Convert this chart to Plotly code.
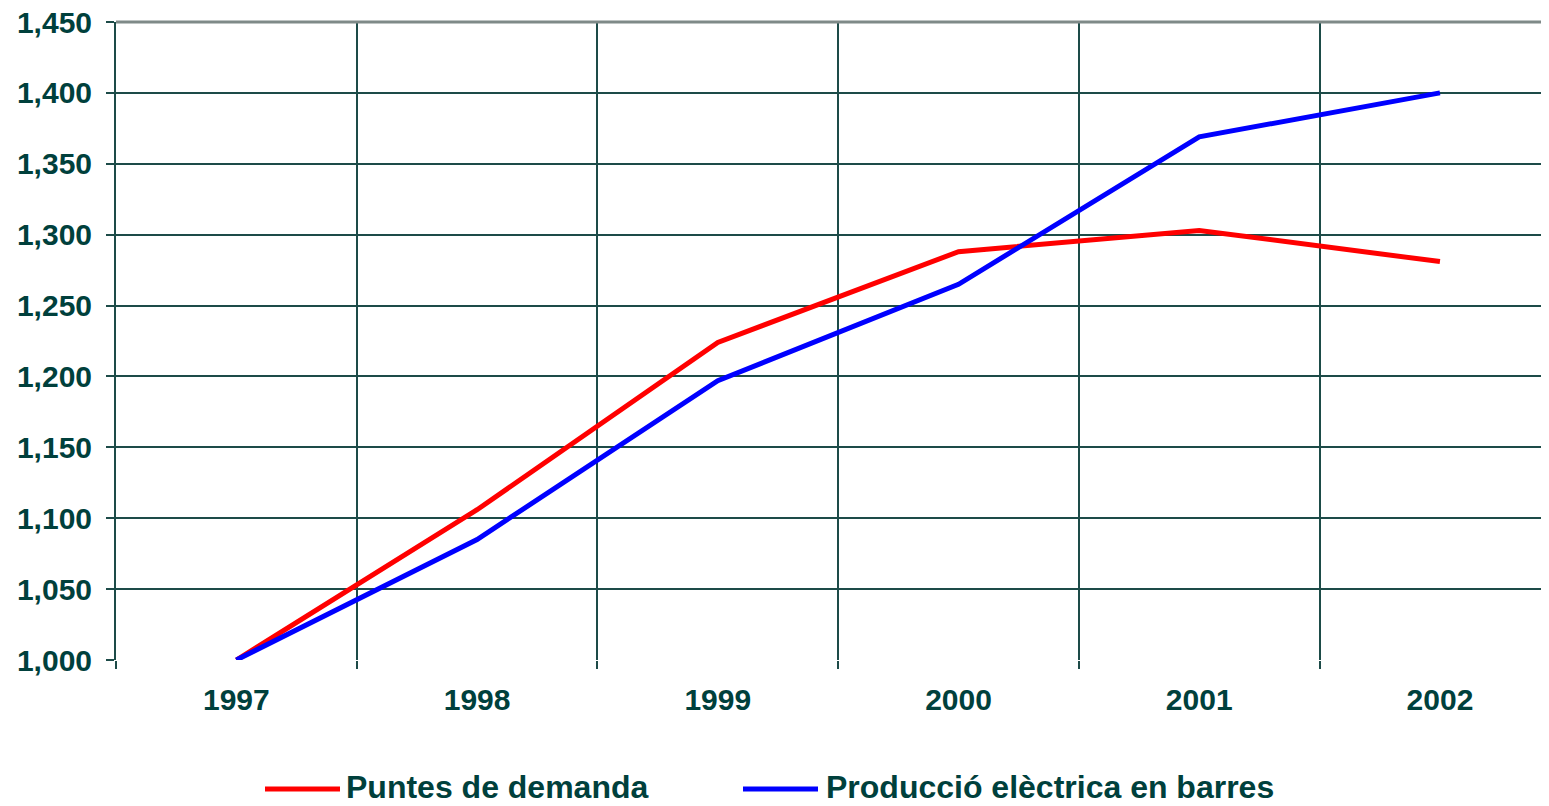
import plotly.graph_objects as go

years = [1997, 1998, 1999, 2000, 2001, 2002]
year_labels = ["1997", "1998", "1999", "2000", "2001", "2002"]
puntes_demanda = [1000, 1106, 1224, 1288, 1303, 1281]
produccio_barres = [1000, 1085, 1197, 1265, 1369, 1400]
series_names = ["Puntes de demanda", "Producció elèctrica en barres"]
series_colors = ["#ff0000", "#0000ff"]

TEXT = "#00403c"
GRID = "#1d4b48"
FONT = "Liberation Sans, Arial, sans-serif"

fig = go.Figure()
for name, vals, col in zip(series_names, [puntes_demanda, produccio_barres], series_colors):
    fig.add_trace(go.Scatter(x=years, y=vals, mode="lines", name=name,
                             line=dict(color=col, width=5), showlegend=False))

# page has 8px body margin
OFF = 8
W, H = 1549 - OFF, 806 - OFF
L, R, T, B = 116 - OFF, 0, 22 - OFF, 146
fig.update_layout(
    width=W, height=H, margin=dict(l=L, r=R, t=T, b=B, autoexpand=False),
    paper_bgcolor="white", plot_bgcolor="white",
    font=dict(family=FONT, color=TEXT),
)
fig.update_xaxes(
    range=[1996.5, 2002.453], tickvals=years, ticktext=year_labels,
    ticks="", showgrid=False, zeroline=False, showline=False, automargin=False,
    tickfont=dict(size=30, color=TEXT, weight="bold"),
    ticklabelstandoff=19,
    minor=dict(tickvals=[1996.5, 1997.5, 1998.5, 1999.5, 2000.5, 2001.5],
               ticks="outside", ticklen=8, tickcolor=GRID, tickwidth=2,
               showgrid=True, gridcolor=GRID, gridwidth=1.5),
)
fig.update_yaxes(
    range=[1000, 1450], dtick=50, tickformat=",d",
    ticks="outside", ticklen=8, tickcolor=GRID, tickwidth=2,
    showgrid=True, gridcolor=GRID, gridwidth=1.5, zeroline=False,
    showline=True, linecolor=GRID, linewidth=2, automargin=False,
    tickfont=dict(size=30, color=TEXT, weight="bold"),
    ticklabelstandoff=8, ticklabeloverflow="allow",
)
# grey top border line
fig.add_shape(type="line", xref="paper", yref="paper", x0=0, x1=1, y0=1, y1=1,
              layer="above", line=dict(color="#7f8a88", width=3))

# manual legend (positions in page pixels)
plot_w = W - L - R
plot_h = H - T - B
def px_x(p):
    return (p - OFF - L) / plot_w
def px_y(p):
    return (H - B - (p - OFF)) / plot_h

leg = [(265, 340, 344), (743, 818, 824)]
for (x0, x1, xt), name, col in zip(leg, series_names, series_colors):
    fig.add_shape(type="line", xref="paper", yref="paper",
                  x0=px_x(x0), x1=px_x(x1), y0=px_y(789), y1=px_y(789),
                  line=dict(color=col, width=5))
    fig.add_annotation(xref="paper", yref="paper", x=px_x(xt), y=px_y(787),
                       xanchor="left", yanchor="middle", showarrow=False,
                       text="<b>" + name + "</b>",
                       font=dict(size=32, color=TEXT, family=FONT))

fig.write_html("out.html")
